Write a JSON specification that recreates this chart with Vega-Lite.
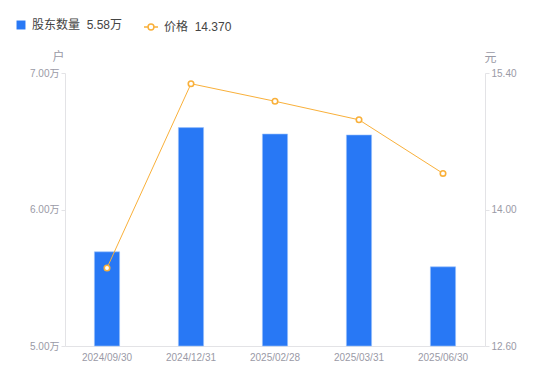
{
  "$schema": "https://vega.github.io/schema/vega-lite/v6.json",
  "width": 420,
  "height": 273,
  "autosize": {"type": "none"},
  "padding": {"left": 65, "top": 73, "right": 65, "bottom": 35},
  "background": "white",
  "config": {
    "font": "Liberation Sans, Noto Sans CJK SC",
    "view": {"stroke": null},
    "axis": {
      "domainColor": "#e3e3e6",
      "tickColor": "#e3e3e6",
      "labelColor": "#9a9aa6",
      "labelFontSize": 10,
      "grid": false,
      "titleColor": "#9a9aa6",
      "titleFontSize": 12,
      "titleFontWeight": "normal"
    }
  },
  "data": {
    "values": [
      {"date": "2024/09/30", "holders": 5.69, "price": 13.40},
      {"date": "2024/12/31", "holders": 6.60, "price": 15.29},
      {"date": "2025/02/28", "holders": 6.553, "price": 15.11},
      {"date": "2025/03/31", "holders": 6.546, "price": 14.92},
      {"date": "2025/06/30", "holders": 5.58, "price": 14.37}
    ]
  },
  "encoding": {
    "x": {
      "field": "date",
      "type": "ordinal",
      "sort": null,
      "scale": {"paddingInner": 0.7, "paddingOuter": 0.35},
      "axis": {"title": null, "labelAngle": 0, "ticks": false, "labelPadding": 6, "domainColor": "#e3e3e6"}
    }
  },
  "layer": [
    {
      "mark": {"type": "bar", "stroke": "#9cc2fa", "strokeWidth": 0.6},
      "encoding": {
        "y": {
          "field": "holders",
          "type": "quantitative",
          "scale": {"domain": [5, 7], "nice": false, "zero": false},
          "axis": {
            "values": [5, 6, 7],
            "labelExpr": "format(datum.value, '.2f') + '万'",
            "tickSize": 4,
            "labelPadding": 2,
            "title": "户",
            "titleAngle": 0,
            "titleX": -7,
            "titleY": -17,
            "titleAlign": "center",
            "titleBaseline": "middle"
          }
        },
        "y2": {"datum": 5},
        "fill": {
          "datum": "股东数量",
          "scale": {"range": ["#2878f5"]},
          "legend": {
            "orient": "none",
            "legendX": -50,
            "legendY": -54,
            "title": null,
            "symbolType": "square",
            "symbolSize": 80,
            "symbolStrokeWidth": 0,
            "labelExpr": "'股东数量\u00a0\u00a05.58万'",
            "labelFontSize": 12,
            "labelColor": "#444444",
            "labelOffset": 5,
            "padding": 0
          }
        }
      }
    },
    {
      "mark": {"type": "line", "strokeWidth": 1},
      "encoding": {
        "y": {
          "field": "price",
          "type": "quantitative",
          "scale": {"domain": [12.6, 15.4], "nice": false, "zero": false},
          "axis": {
            "orient": "right",
            "values": [12.6, 14, 15.4],
            "format": ".2f",
            "tickSize": 4,
            "labelPadding": 2,
            "title": "元",
            "titleAngle": 0,
            "titleX": 5,
            "titleY": -16,
            "titleAlign": "center",
            "titleBaseline": "middle"
          }
        },
        "stroke": {
          "datum": "价格",
          "scale": {"range": ["#f9b03a"]},
          "legend": {
            "orient": "none",
            "legendX": 78,
            "legendY": -54,
            "title": null,
            "symbolType": "M-1,0H-0.42M0.42,0H1M-0.42,0A0.42,0.42 0 1,0 0.42,0A0.42,0.42 0 1,0 -0.42,0",
            "symbolSize": 196,
            "symbolStrokeWidth": 1.5,
            "symbolFillColor": "white",
            "labelExpr": "'价格\u00a0\u00a014.370'",
            "labelFontSize": 12,
            "labelColor": "#444444",
            "labelOffset": 5,
            "padding": 0
          }
        }
      }
    },
    {
      "mark": {"type": "point", "filled": false, "fill": "white", "fillOpacity": 1, "size": 30, "strokeWidth": 1.6, "opacity": 1},
      "encoding": {
        "y": {"field": "price", "type": "quantitative", "scale": {"domain": [12.6, 15.4], "nice": false, "zero": false}, "axis": null},
        "stroke": {"datum": "价格"}
      }
    }
  ],
  "resolve": {"scale": {"y": "independent"}}
}
